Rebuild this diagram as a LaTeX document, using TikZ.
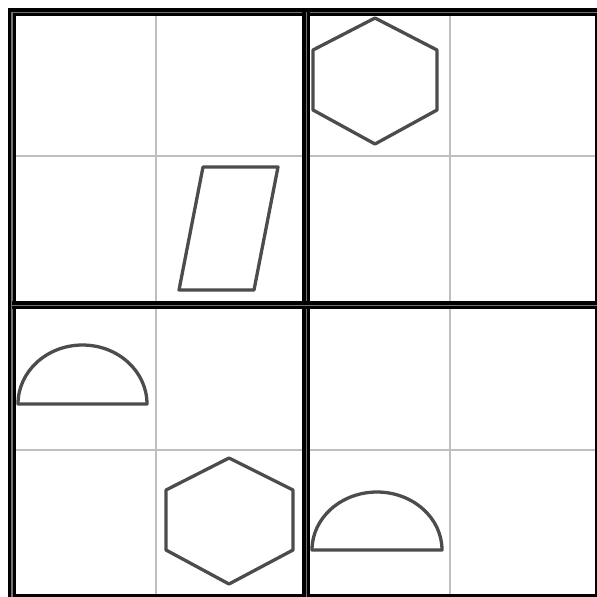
\documentclass[tikz,border=0pt]{standalone}
\usepackage{tikz}
\tikzset{
  gthin/.style={gray!50, line width=0.2mm},
  gthick/.style={draw=black, line width=0.37mm, double=black!55, double distance=0.1mm},
  gshape/.style={draw=black!70, line width=0.33mm, line join=round},
}

\begin{document}
\begin{tikzpicture}[x=0.01cm, y=-0.01cm]

  % área da figura
  \useasboundingbox (0,0) rectangle (597,596);

  % linhas finas da grade
  \foreach \p in {156,450} {
    \draw[gthin] (\p,12) -- (\p,598);
    \draw[gthin] (12,\p) -- (599,\p);
  }

  % linhas grossas (blocos 2x2)
  \draw[gthick] (12,12) rectangle (599,598);
  \draw[gthick] (306,12) -- (306,598);
  \draw[gthick] (12,305) -- (599,305);

  % hexágono superior
  \draw[gshape] (375,18) -- (437,50) -- (437,110) -- (375,144)
                -- (313,110) -- (313,50) -- cycle;

  % paralelogramo
  \draw[gshape] (203,167) -- (278,167) -- (254,290) -- (179,290) -- cycle;

  % semicírculo da esquerda
  \draw[gshape] (18,404) arc[start angle=180, end angle=360,
                x radius=64.5, y radius=59] -- cycle;

  % hexágono inferior
  \draw[gshape] (229,458) -- (293,490) -- (293,550) -- (229,584)
                -- (166,550) -- (166,490) -- cycle;

  % semicírculo inferior
  \draw[gshape] (312,550) arc[start angle=180, end angle=360,
                x radius=65, y radius=58] -- cycle;

\end{tikzpicture}
\end{document}
